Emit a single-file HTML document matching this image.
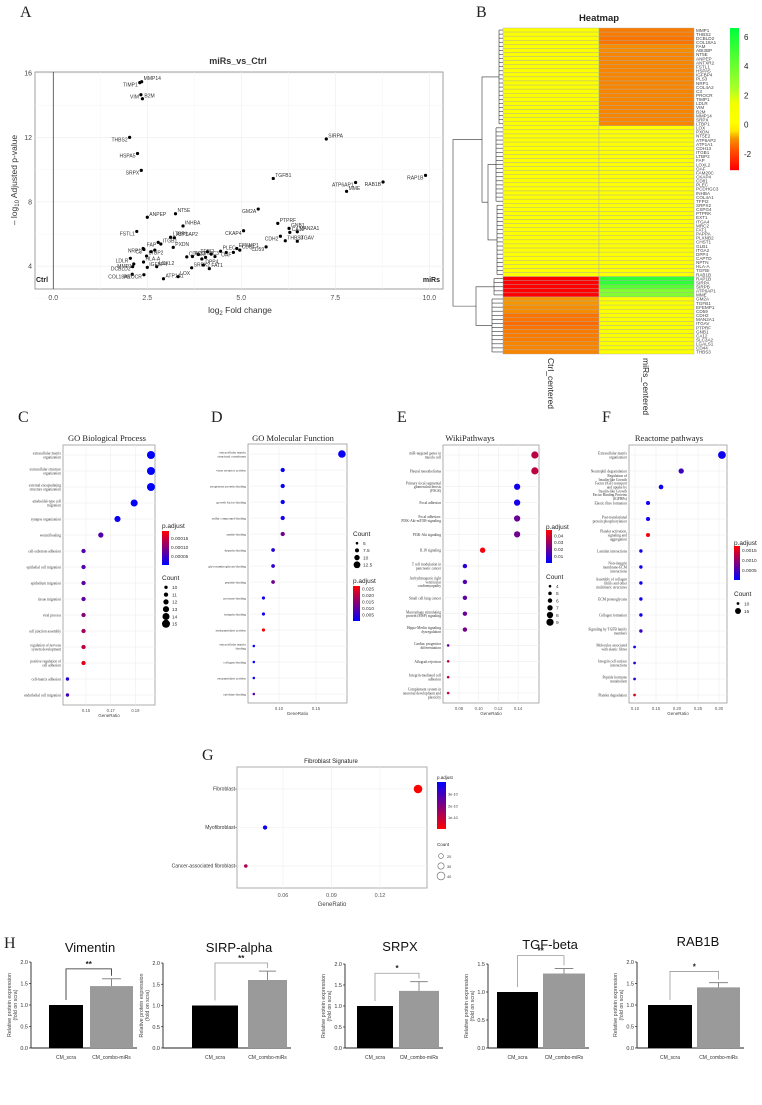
<!DOCTYPE html>
<html><head><meta charset="utf-8">
<style>
html,body{margin:0;padding:0;background:#fff;}
svg{display:block;font-family:"Liberation Sans",sans-serif;}
.serif{font-family:"Liberation Serif",serif;}
</style></head>
<body>
<svg id="fig" width="762" height="1105" viewBox="0 0 762 1105" xmlns="http://www.w3.org/2000/svg">
<rect width="762" height="1105" fill="#fff"/>
<g class="serif" font-size="16" fill="#222">
<text x="20" y="17">A</text>
<text x="476" y="17">B</text>
<text x="18" y="422">C</text>
<text x="211" y="422">D</text>
<text x="397" y="422">E</text>
<text x="602" y="422">F</text>
<text x="202" y="760">G</text>
<text x="4" y="948">H</text>
</g>
<g id="A"></g>
<g id="B"></g>
<g id="C"></g>
<g id="D"></g>
<g id="E"></g>
<g id="F"></g>
<g id="G"></g>
<g id="H"></g>
</svg>
<script>
// ---------- Panel A data ----------
const volcGenes=["MMP14","TIMP1","VIM","B2M","THBS2","HSPA5","SRPX","SIRPA","TGFB1","ATP6AP1","MME","RAB1B","RAP1B","ANPEP","NT5E","INHBA","GM2A","PTPRF","CKAP4","GNB1","MAN2A1","CA12","CDH2","THBS3","ITGAV","CD59","CD81","EFEMP1","PLEC","OAF","FSTL1","LTBP1","ATP6AP2","FAP","ITGB1","PXDN","NRP1","C3","CDH13","TFPI2","LDLR","LTBP2","HLA-A","PCDHGC3","MMP1","DCBLD2","IGFBP4","COL18A1","PROCR","ATP1A1","LOX","LOXL2","SRPX2","DPP4","FAT1","","","","","","","",""];
const volcFC=[2.35,2.30,2.33,2.37,2.03,2.24,2.34,7.26,5.85,8.04,7.80,8.77,9.90,2.50,3.25,3.45,5.45,5.97,5.06,6.27,6.49,6.29,6.04,6.17,6.49,5.66,4.96,4.88,4.45,4.79,2.22,3.12,3.22,2.79,2.86,3.19,2.39,2.41,3.55,3.86,2.05,2.48,2.40,3.70,2.14,2.11,2.50,2.10,2.41,2.93,3.32,2.75,3.68,3.99,4.15,4.10,4.20,4.05,4.30,3.95,2.60,2.70,4.60];
const volcP=[15.46,15.40,14.65,14.40,12.0,11.0,9.95,11.9,9.45,9.2,8.65,9.23,9.64,7.04,7.26,6.5,7.55,6.66,6.2,6.35,6.14,6.1,5.86,5.58,5.55,5.2,5.0,5.1,4.93,4.86,6.16,5.8,5.77,5.48,5.38,5.17,5.1,5.04,4.58,4.73,4.49,4.63,4.26,4.60,4.14,3.97,3.93,3.5,3.47,3.22,3.35,3.97,3.9,4.07,3.85,4.9,4.75,4.55,4.6,4.45,4.9,5.0,4.85];
const volcLeft=["TIMP1","VIM","THBS2","HSPA5","SRPX","GM2A","CKAP4","CDH2","ATP6AP1","RAB1B","RAP1B","FSTL1","FAP","NRP1","LDLR","MMP1","DCBLD2","COL18A1","PROCR","OAF","C3","CD59"];
const volcXTicks=[0,2.5,5,7.5,10];
const volcYTicks=[4,8,12,16];

// ---------- Panel B data ----------
const hmGenes=["MMP1","THBS2","DCBLD2","COL18A1","FAM","ABI3BP","NT5E","ANPEP","ANTXR2","FSTL1","HSPA5","IGFBP4","PLS3","NRP1","COL4A2","C3","PROCR","TIMP1","LDLR","VIM","B2M","MMP14","SRPX","LTBP1","LOX","PXDN","NT5E2","ATP6AP2","ATP1A1","CDH13","ITGB1","LTBP2","FAP","LOXL2","OAF","FAM20C","CKAP4","CD81","PLEC","PCDHGC3","INHBA","COL4A1","TFPI2","SRPX2","CSPG4","PTPRK","EXT1","ITGA4","MRC2","FAT1","PAPPA","PLXNB2","CHST1","GLB1","ITGA2","DPP4","CAPTD","NPTN","HLA-A","TGFBI","RAB1B","RAP1B","SIRPA","SIRPB","ATP6AP1","MME","GM2A","TGFB1","EFEMP1","CD59","CDH2","MAN2A1","ITGAV","PTPRF","GNB1","CA12","SLC3A2","LGALS1","CD44","THBS3"];
const hmCtrl=[0.5,0.5,0.5,0.5,0.5,0.5,0.5,0.5,0.5,0.5,0.5,0.5,0.5,0.5,0.5,0.5,0.5,0.5,0.5,0.5,0.5,0.5,0.5,0.5,
0.3,0.3,0.3,0.3,0.3,0.3,0.3,0.3,0.3,0.3,0.3,0.3,0.3,0.3,0.3,0.3,0.3,0.3,0.3,0.3,0.3,0.3,0.3,0.3,0.3,0.3,0.3,0.3,0.3,0.3,0.3,0.3,0.3,0.3,0.3,0.3,0.3,
-3,-3,-3,-3,-3,
-0.9,-0.9,-1.0,-1.0,-1.3,-1.3,-1.4,-1.3,-1.2,-1.2,-1.2,-1.1,-1.1,-1.1];
const hmMirs=[-1.2,-1.2,-1.3,-1.3,-1.0,-1.0,-1.1,-1.1,-1.1,-1.1,-1.1,-1.1,-1.1,-1.1,-1.1,-1.1,-1.1,-1.1,-1.1,-1.1,-1.1,-1.1,-1.1,-1.1,
0.3,0.3,0.3,0.3,0.3,0.3,0.3,0.3,0.3,0.3,0.3,0.3,0.3,0.3,0.2,0.3,0.3,0.3,0.3,0.3,0.3,0.3,0.3,0.3,0.3,0.3,0.3,0.3,0.3,0.3,0.3,0.3,0.3,0.3,0.3,0.3,0.3,
5.5,5.5,4.5,3.5,3.5,
0.5,0.5,0.5,0.5,0.5,0.5,0.5,0.5,0.5,0.5,0.5,0.5,0.5,0.5];
const hmLegendTicks=[6,4,2,0,-2];

// ---------- Panel C data ----------
const cTerms=["extracellular matrix organization","extracellular structure organization","external encapsulating structure organization","ameboidal-type cell migration","synapse organization","wound healing","cell-substrate adhesion","epithelial cell migration","epithelium migration","tissue migration","viral process","cell junction assembly","regulation of nervous system development","positive regulation of cell adhesion","cell-matrix adhesion","endothelial cell migration"];
const cRatio=[0.2026,0.2026,0.2026,0.189,0.1755,0.162,0.148,0.148,0.148,0.148,0.148,0.148,0.148,0.148,0.135,0.135];
const cCount=[15,15,15,14,13,12,11,11,11,11,11,11,11,11,10,10];
const cP=[0.000001,0.000001,0.000001,0.000004,0.00001,0.00006,0.00006,0.00006,0.00007,0.00007,0.0001,0.00012,0.00014,0.00017,0.00003,0.00005];
const cXTicks=[0.15,0.17,0.19];
// ---------- Panel D data ----------
const dTerms=["extracellular matrix structural constituent","virus receptor activity","exogenous protein binding","growth factor binding","sulfur compound binding","amide binding","heparin binding","glycosaminoglycan binding","peptide binding","protease binding","integrin binding","endopeptidase activity","extracellular matrix binding","collagen binding","exopeptidase activity","cytokine binding"];
const dRatio=[0.185,0.105,0.105,0.105,0.105,0.105,0.092,0.092,0.092,0.079,0.079,0.079,0.066,0.066,0.066,0.066];
const dCount=[14,8,8,8,8,8,7,7,7,6,6,6,5,5,5,5];
const dP=[0.001,0.001,0.001,0.001,0.002,0.012,0.004,0.005,0.012,0.002,0.002,0.026,0.001,0.001,0.002,0.009];
const dXTicks=[0.10,0.15];
// ---------- Panel E data ----------
const eTerms=["miR-targeted genes in muscle cell","Pleural mesothelioma","Primary focal segmental glomerulosclerosis (FSGS)","Focal adhesion","Focal adhesion: PI3K-Akt-mTOR-signaling","PI3K-Akt signaling","IL18 signaling","T cell modulation in pancreatic cancer","Arrhythmogenic right ventricular cardiomyopathy","Small cell lung cancer","Macrophage stimulating protein (MSP) signaling","Hippo-Merlin signaling dysregulation","Cardiac progenitor differentiation","Allograft rejection","Integrin-mediated cell adhesion","Complement system in neuronal development and plasticity"];
const eRatio=[0.157,0.157,0.139,0.139,0.139,0.139,0.104,0.086,0.086,0.086,0.086,0.086,0.069,0.069,0.069,0.069];
const eCount=[9,9,8,8,8,8,7,6,6,6,6,6,4,4,4,4];
const eP=[0.035,0.036,0.003,0.004,0.02,0.021,0.046,0.008,0.015,0.017,0.02,0.022,0.02,0.035,0.035,0.037];
const eXTicks=[0.08,0.10,0.12,0.14];
// ---------- Panel F data ----------
const fTerms=["Extracellular matrix organization","Neutrophil degranulation","Regulation of Insulin-like Growth Factor (IGF) transport and uptake by Insulin-like Growth Factor Binding Proteins (IGFBPs)","Elastic fibre formation","Post-translational protein phosphorylation","Platelet activation, signaling and aggregation","Laminin interactions","Non-integrin membrane-ECM interactions","Assembly of collagen fibrils and other multimeric structures","ECM proteoglycans","Collagen formation","Signaling by TGFB family members","Molecules associated with elastic fibres","Integrin cell surface interactions","Peptide hormone metabolism","Platelet degradation"];
const fRatio=[0.307,0.21,0.162,0.131,0.131,0.131,0.114,0.114,0.114,0.114,0.114,0.114,0.099,0.099,0.099,0.099];
const fCount=[18,14,13,12,12,12,11,11,11,11,11,11,10,10,10,10];
const fP=[0.0001,0.0004,0.0001,0.0001,0.0001,0.0016,0.0001,0.0001,0.0001,0.0001,0.0001,0.0004,0.0001,0.0003,0.0003,0.0015];
const fXTicks=[0.10,0.15,0.20,0.25,0.30];
// ---------- Panel G data ----------
const gTerms=["Fibroblast","Myofibroblast","Cancer-associated fibroblast"];
const gRatio=[0.1435,0.0489,0.037];
const gCount=[45,17,12];
const gP=[0.0,3.8e-10,1.3e-10];
const gXTicks=[0.06,0.09,0.12];
// ---------- Panel H data ----------
const barTitles=["Vimentin","SIRP-alpha","SRPX","TGF-beta","RAB1B"];
const barCtrl=[1,1,1,1,1];
const barTreat=[1.44,1.60,1.36,1.33,1.41];
const barErr=[0.17,0.21,0.22,0.09,0.11];
const barYMax=[2.0,2.0,2.0,1.5,2.0];
const barSig=["**","**","*","**","*"];
const barBracket=[1.84,2.0,1.78,1.65,1.78];
const barCats=["CM_scra","CM_combo-miRs"];

// ---------- helpers ----------
const NS="http://www.w3.org/2000/svg";
function mk(parent,tag,attrs,txt){const e=document.createElementNS(NS,tag);for(const k in attrs)e.setAttribute(k,attrs[k]);if(txt!==undefined)e.textContent=txt;parent.appendChild(e);return e;}
function pcol(t){t=Math.max(0,Math.min(1,t));return `rgb(${Math.round(255*t)},0,${Math.round(255*(1-t))})`;}

// ---------- Panel A ----------
(function(){
const g=document.getElementById('A');
const L=35,R=443,T=72,B=289;
const xs=v=>53.3+v*37.6, ys=v=>73+(16-v)*16.1;
let e=mk(g,'text',{x:238,y:64,'text-anchor':'middle','font-size':9,'font-weight':'bold',fill:'#333'},'miRs_vs_Ctrl');

mk(g,'rect',{x:L,y:T,width:R-L,height:B-T,fill:'#fff',stroke:'#888','stroke-width':0.8});
volcXTicks.forEach((t,i)=>{mk(g,'line',{x1:xs(t),x2:xs(t),y1:T,y2:B,stroke:'#ececec','stroke-width':0.6});
 if(i<volcXTicks.length-1)mk(g,'line',{x1:xs(t+1.25),x2:xs(t+1.25),y1:T,y2:B,stroke:'#f5f5f5','stroke-width':0.5});
 const tl=mk(g,'text',{x:xs(t),y:300,'text-anchor':'middle','font-size':7,fill:'#444'},t.toFixed(1));
 });
volcYTicks.forEach(t=>{mk(g,'line',{x1:L,x2:R,y1:ys(t),y2:ys(t),stroke:'#ececec','stroke-width':0.6});
 mk(g,'line',{x1:L,x2:R,y1:ys(t-2),y2:ys(t-2),stroke:'#f5f5f5','stroke-width':0.5});
 const tl=mk(g,'text',{x:32,y:ys(t)+2.5,'text-anchor':'end','font-size':7,fill:'#444'},String(t));
 });
mk(g,'line',{x1:xs(0),x2:xs(0),y1:T,y2:B,stroke:'#444','stroke-width':0.8});
e=mk(g,'text',{x:36,y:282,'font-size':7,'font-weight':'bold',fill:'#222'},'Ctrl');
e=mk(g,'text',{x:440,y:282,'text-anchor':'end','font-size':7,'font-weight':'bold',fill:'#222'},'miRs');
e=mk(g,'text',{x:240,y:313,'text-anchor':'middle','font-size':8.5,fill:'#333'});
mk(e,'tspan',{},'log');mk(e,'tspan',{'font-size':6,dy:2},'2');mk(e,'tspan',{dy:-2},' Fold change');

e=mk(g,'text',{x:0,y:0,'text-anchor':'middle','font-size':8.5,fill:'#333',transform:'translate(17,180) rotate(-90)'});
mk(e,'tspan',{},'– log');mk(e,'tspan',{'font-size':6,dy:2},'10');mk(e,'tspan',{dy:-2},' Adjusted p-value');

volcFC.forEach((fc,i)=>{const cx=xs(fc),cy=ys(volcP[i]);
 const c=mk(g,'circle',{cx:cx,cy:cy,r:1.6,fill:'#000'});
 
 const nm=volcGenes[i];if(!nm)return;
 const left=volcLeft.includes(nm);
 const t=mk(g,'text',{x:left?cx-2:cx+2,y:cy+(left?4:-1.5),'text-anchor':left?'end':'start','font-size':5,fill:'#333'},nm);
 });
})();

// ---------- Panel B ----------
(function(){
const g=document.getElementById('B');
const x0=503,xm=599,x1=694,y0=28,y1=354,n=hmGenes.length,rh=(y1-y0)/n;
const stops=[[-3,[255,0,0]],[-1.6,[255,90,0]],[-0.9,[245,150,0]],[-0.4,[255,230,0]],[0.2,[255,255,0]],[1.5,[240,255,0]],[2.5,[170,255,40]],[6.6,[0,255,60]]];
function hc(v){if(v<=stops[0][0])return stops[0][1];for(let i=1;i<stops.length;i++){if(v<=stops[i][0]){const a=stops[i-1],b=stops[i],t=(v-a[0])/(b[0]-a[0]);return a[1].map((c,k)=>Math.round(c+(b[1][k]-c)*t));}}return stops[stops.length-1][1];}
const rgb=a=>`rgb(${a[0]},${a[1]},${a[2]})`;
let e=mk(g,'text',{x:599,y:21,'text-anchor':'middle','font-size':9.5,'font-weight':'bold',fill:'#222'},'Heatmap');

hmGenes.forEach((nm,i)=>{const y=y0+i*rh;
 let r=mk(g,'rect',{x:x0,y:y,width:xm-x0,height:rh,fill:rgb(hc(hmCtrl[i])),stroke:'#aaa','stroke-width':0.4});
 
 r=mk(g,'rect',{x:xm,y:y,width:x1-xm,height:rh,fill:rgb(hc(hmMirs[i])),stroke:'#aaa','stroke-width':0.4});
 
 const t=mk(g,'text',{x:696,y:y+rh-0.3,'font-size':4.6,fill:'#444'},nm);
 });
const st={stroke:'#333','stroke-width':0.6,fill:'none'};
const ry=i=>y0+(i+0.5)*rh;
function leaves(a,b,x){for(let i=a;i<=b;i++)mk(g,'line',Object.assign({x1:x,x2:x0,y1:ry(i),y2:ry(i)},st));mk(g,'line',Object.assign({x1:x,x2:x,y1:ry(a),y2:ry(b)},st));return (ry(a)+ry(b))/2;}
const a1=leaves(0,23,499),a2=leaves(24,42,496),a3=leaves(43,60,497),a4=leaves(61,65,494),a5=leaves(66,79,492);
function join(ya,yb,xa,xb,x){mk(g,'path',Object.assign({d:`M${xa},${ya}H${x}V${yb}H${xb}`},st));return (ya+yb)/2;}
const b1=join(a2,a3,496,497,488);
const b2=join(a1,b1,499,488,482);
const b3=join(a4,a5,494,492,476);
join(b2,b3,482,476,453);
e=mk(g,'text',{x:0,y:0,'font-size':8.5,fill:'#222',transform:'translate(548,358) rotate(90)'},'Ctrl_centered');
e=mk(g,'text',{x:0,y:0,'font-size':8.5,fill:'#222',transform:'translate(643,358) rotate(90)'},'miRs_centered');
const ly0=28,ly1=170,lv0=6.6,lv1=-3.1,ly=v=>ly0+(lv0-v)/(lv0-lv1)*(ly1-ly0);
for(let y=ly0;y<ly1;y+=1){const v=lv0-(y-ly0)/(ly1-ly0)*(lv0-lv1);mk(g,'rect',{x:730,y:y,width:9,height:1.2,fill:rgb(hc(v))});}
hmLegendTicks.forEach(t=>{const tl=mk(g,'text',{x:744,y:ly(t)+3,'font-size':8,fill:'#222'},String(t));});
})();

// ---------- dotplot helper ----------
function dotplot(id,o){
 const g=document.getElementById(id);
 const xs=v=>o.x0px+(v-o.x0v)*o.pxu;
 const n=o.terms.length,ry=i=>o.yFirst+i*(o.yLast-o.yFirst)/(n-1);
 const pt=v=>{const t=(v-o.pmin)/(o.pmax-o.pmin);return o.invert?1-t:t;};
 let e=mk(g,'text',{x:o.titleX,y:o.titleY,'text-anchor':'middle','font-size':o.titleSize||8.5,fill:'#222','font-family':o.sans?'Liberation Sans,sans-serif':'Liberation Serif,serif'},o.title);
 
 mk(g,'rect',{x:o.L,y:o.T,width:o.R-o.L,height:o.B-o.T,fill:'#fff',stroke:'#999','stroke-width':0.8});
 o.ticks.forEach(t=>{mk(g,'line',{x1:xs(t),x2:xs(t),y1:o.T,y2:o.B,stroke:'#eee','stroke-width':0.6});
  const tl=mk(g,'text',{x:xs(t),y:o.B+(o.sans?9:7),'text-anchor':'middle','font-size':o.sans?5.5:4.2,fill:'#555'},o.tickFmt(t));
  });
 o.terms.forEach((t,i)=>{mk(g,'line',{x1:o.L,x2:o.R,y1:ry(i),y2:ry(i),stroke:'#eee','stroke-width':0.6});
  const tx=mk(g,'text',{x:o.L-2,y:ry(i)+1.5,'text-anchor':'end','font-size':o.labSize,fill:'#333','font-family':o.sans?'Liberation Sans,sans-serif':'Liberation Serif,serif'});
  
  const words=t.split(' '),lines=[];let cur='';words.forEach(w=>{if((cur+' '+w).trim().length>o.wrap&&cur){lines.push(cur);cur=w;}else cur=(cur+' '+w).trim();});lines.push(cur);
  const lh=o.labSize*1.05,off=-(lines.length-1)*lh/2;
  lines.forEach((l,k)=>mk(tx,'tspan',{x:o.L-2,y:ry(i)+1.5+off+k*lh},l));});
 const cmin=Math.min(...o.cnt),cmax=Math.max(...o.cnt);
 o.ratio.forEach((v,i)=>{const r=o.rmin+(cmax>cmin?(o.cnt[i]-cmin)/(cmax-cmin):0)*(o.rmax-o.rmin);
  const c=mk(g,'circle',{cx:xs(v),cy:ry(i),r:r,fill:pcol(pt(o.p[i]))});
  });
 e=mk(g,'text',{x:(o.L+o.R)/2,y:o.B+(o.sans?18:12),'text-anchor':'middle','font-size':o.sans?6:4.5,fill:'#444'},'GeneRatio');
 
 const pl=o.pleg;
 e=mk(g,'text',{x:pl.x,y:pl.y,'font-size':pl.fs,fill:'#222'},'p.adjust');
 const gid='gr'+id;const df=mk(g,'defs',{});const lg=mk(df,'linearGradient',{id:gid,x1:0,y1:0,x2:0,y2:1});
 mk(lg,'stop',{offset:0,'stop-color':o.invert?'#0000ff':'#ff0000'});mk(lg,'stop',{offset:1,'stop-color':o.invert?'#ff0000':'#0000ff'});
 mk(g,'rect',{x:pl.x,y:pl.by0,width:pl.bw,height:pl.by1-pl.by0,fill:`url(#${gid})`});
 pl.ticks.forEach(t=>{const yy=pl.by1-(t-o.pmin)/(o.pmax-o.pmin)*(pl.by1-pl.by0);
  const tl=mk(g,'text',{x:pl.x+pl.bw+2,y:yy+1.8,'font-size':pl.tfs,fill:'#333'},pl.fmt(t));});
 const cl=o.cleg;
 e=mk(g,'text',{x:cl.x,y:cl.y,'font-size':pl.fs,fill:'#222'},'Count');
 cl.vals.forEach((v,k)=>{const r=o.rmin+(v-cmin)/(cmax-cmin)*(o.rmax-o.rmin);const yy=cl.y+cl.dy*(k+1);
  const c=mk(g,'circle',{cx:cl.x+4,cy:yy,r:Math.max(0.8,r),fill:cl.open?'none':'#000',stroke:cl.open?'#666':'none','stroke-width':0.6});
  
  mk(g,'text',{x:cl.x+10,y:yy+1.8,'font-size':pl.tfs,fill:'#333'},String(v));});
}
dotplot('C',{title:'GO Biological Process',titleX:107,titleY:441,L:63,R:155,T:445,B:705,x0v:0.15,x0px:86,pxu:1235,yFirst:455,yLast:695,ticks:cXTicks,tickFmt:t=>t.toFixed(2),terms:cTerms,ratio:cRatio,cnt:cCount,p:cP,pmin:0,pmax:0.00019,rmin:1.7,rmax:4.0,labSize:3.6,wrap:26,
 pleg:{x:162,y:528,fs:6.5,by0:531,by1:565,bw:7,tfs:4.8,ticks:[0.00015,0.0001,0.00005],fmt:t=>t.toFixed(5)},cleg:{x:162,y:580,dy:7.3,vals:[10,11,12,13,14,15]}});
dotplot('D',{title:'GO Molecular Function',titleX:293,titleY:441,L:248,R:347,T:444,B:703,x0v:0.10,x0px:279,pxu:740,yFirst:454,yLast:694,ticks:dXTicks,tickFmt:t=>t.toFixed(2),terms:dTerms,ratio:dRatio,cnt:dCount,p:dP,pmin:0,pmax:0.027,rmin:1.3,rmax:3.8,labSize:3.4,wrap:26,
 pleg:{x:353,y:583,fs:6.5,by0:586,by1:621,bw:7,tfs:4.8,ticks:[0.025,0.02,0.015,0.01,0.005],fmt:t=>t.toFixed(3)},cleg:{x:353,y:536,dy:7.2,vals:[5,7.5,10,12.5]}});
dotplot('E',{title:'WikiPathways',titleX:470,titleY:441,L:443,R:539,T:445,B:703,x0v:0.08,x0px:459,pxu:985,yFirst:455,yLast:693,ticks:eXTicks,tickFmt:t=>t.toFixed(2),terms:eTerms,ratio:eRatio,cnt:eCount,p:eP,pmin:0,pmax:0.048,rmin:1.3,rmax:3.6,labSize:3.6,wrap:24,
 pleg:{x:546,y:529,fs:6.5,by0:530,by1:563,bw:6,tfs:4.8,ticks:[0.04,0.03,0.02,0.01],fmt:t=>t.toFixed(2)},cleg:{x:546,y:579,dy:7.2,vals:[4,5,6,7,8,9]}});
dotplot('F',{title:'Reactome pathways',titleX:669,titleY:441,L:629,R:727,T:445,B:703,x0v:0.10,x0px:635,pxu:420,yFirst:455,yLast:695,ticks:fXTicks,tickFmt:t=>t.toFixed(2),terms:fTerms,ratio:fRatio,cnt:fCount,p:fP,pmin:0,pmax:0.0017,rmin:1.4,rmax:3.9,labSize:3.6,wrap:24,
 pleg:{x:734,y:545,fs:6.5,by0:546,by1:580,bw:6,tfs:4.8,ticks:[0.0015,0.001,0.0005],fmt:t=>t.toFixed(4)},cleg:{x:734,y:596,dy:7.5,vals:[10,15]}});
dotplot('G',{sans:true,invert:true,title:'Fibroblast Signature',titleX:331,titleY:763,titleSize:6,L:237,R:427,T:767,B:888,x0v:0.06,x0px:283,pxu:1617,yFirst:789,yLast:866,ticks:gXTicks,tickFmt:t=>t.toFixed(2),terms:gTerms,ratio:gRatio,cnt:gCount,p:gP,pmin:0,pmax:4e-10,rmin:1.8,rmax:4.3,labSize:5,wrap:40,
 pleg:{x:437,y:779,fs:4.5,by0:782,by1:829,bw:9,tfs:3.8,ticks:[3e-10,2e-10,1e-10],fmt:t=>(t*1e10).toFixed(0)+'e-10'},cleg:{x:437,y:846,dy:10,vals:[20,30,40],open:true}});
(function(){const g=document.getElementById('G');[789,827.5,866].forEach(y=>mk(g,'line',{x1:235,x2:237,y1:y,y2:y,stroke:'#555','stroke-width':0.5}));})();

// ---------- Panel H ----------
(function(){
const g=document.getElementById('H');
const axX=[31,163,345,488,637],yTop=[962,963,964,964,962],y0=1048;
const bx=[[49,83,90,133],[192,238,248,287],[357,393,399,439],[497,538,543,585],[648,692,697,740]];
const titleX=[90,239,400,550,698],titleY=[952,952,951,949,946];
barTitles.forEach((tt,i)=>{
 const ys=v=>y0-v/barYMax[i]*(y0-yTop[i]);
 let e=mk(g,'text',{x:titleX[i],y:titleY[i],'text-anchor':'middle','font-size':13,fill:'#111'},tt);
 
 mk(g,'line',{x1:axX[i],x2:axX[i],y1:yTop[i],y2:y0,stroke:'#222','stroke-width':0.9});
 mk(g,'line',{x1:axX[i],x2:bx[i][3]+4,y1:y0,y2:y0,stroke:'#222','stroke-width':0.9});
 const step=0.5;
 for(let v=0;v<=barYMax[i]+1e-9;v+=step){mk(g,'line',{x1:axX[i]-2,x2:axX[i],y1:ys(v),y2:ys(v),stroke:'#222','stroke-width':0.7});
  const tl=mk(g,'text',{x:axX[i]-3,y:ys(v)+2,'text-anchor':'end','font-size':5.5,fill:'#333'},v.toFixed(1));}
 let r=mk(g,'rect',{x:bx[i][0],y:ys(barCtrl[i]),width:bx[i][1]-bx[i][0],height:y0-ys(barCtrl[i]),fill:'#000'});
 
 r=mk(g,'rect',{x:bx[i][2],y:ys(barTreat[i]),width:bx[i][3]-bx[i][2],height:y0-ys(barTreat[i]),fill:'#9a9a9a'});
 
 const cxT=(bx[i][2]+bx[i][3])/2,cxC=(bx[i][0]+bx[i][1])/2,w=(bx[i][3]-bx[i][2]);
 mk(g,'line',{x1:cxT,x2:cxT,y1:ys(barTreat[i]),y2:ys(barTreat[i]+barErr[i]),stroke:'#888','stroke-width':1});
 mk(g,'line',{x1:cxT-w*0.22,x2:cxT+w*0.22,y1:ys(barTreat[i]+barErr[i]),y2:ys(barTreat[i]+barErr[i]),stroke:'#888','stroke-width':1});
 const by=ys(barBracket[i]),bc=i===0?'#222':'#999';
 mk(g,'path',{d:`M${cxC},${ys(barCtrl[i])-5}V${by}H${cxT}V${ys(barTreat[i]+barErr[i])-3}`,fill:'none',stroke:bc,'stroke-width':0.8});
 e=mk(g,'text',{x:(cxC+cxT)/2,y:by-2,'text-anchor':'middle','font-size':8,'font-weight':'bold',fill:'#222'},barSig[i]);
 
 barCats.forEach((c,k)=>{const t=mk(g,'text',{x:k?cxT:cxC,y:1059,'text-anchor':'middle','font-size':5,fill:'#333'},c);});
 const yt=mk(g,'text',{'text-anchor':'middle','font-size':5.3,fill:'#444',transform:`translate(${axX[i]-20},${(yTop[i]+y0)/2}) rotate(-90)`});
 mk(yt,'tspan',{x:0,y:0},'Relative protein expression');mk(yt,'tspan',{x:0,y:6},'(fold on scra)');
 
});
})();
</script>
</body></html>
